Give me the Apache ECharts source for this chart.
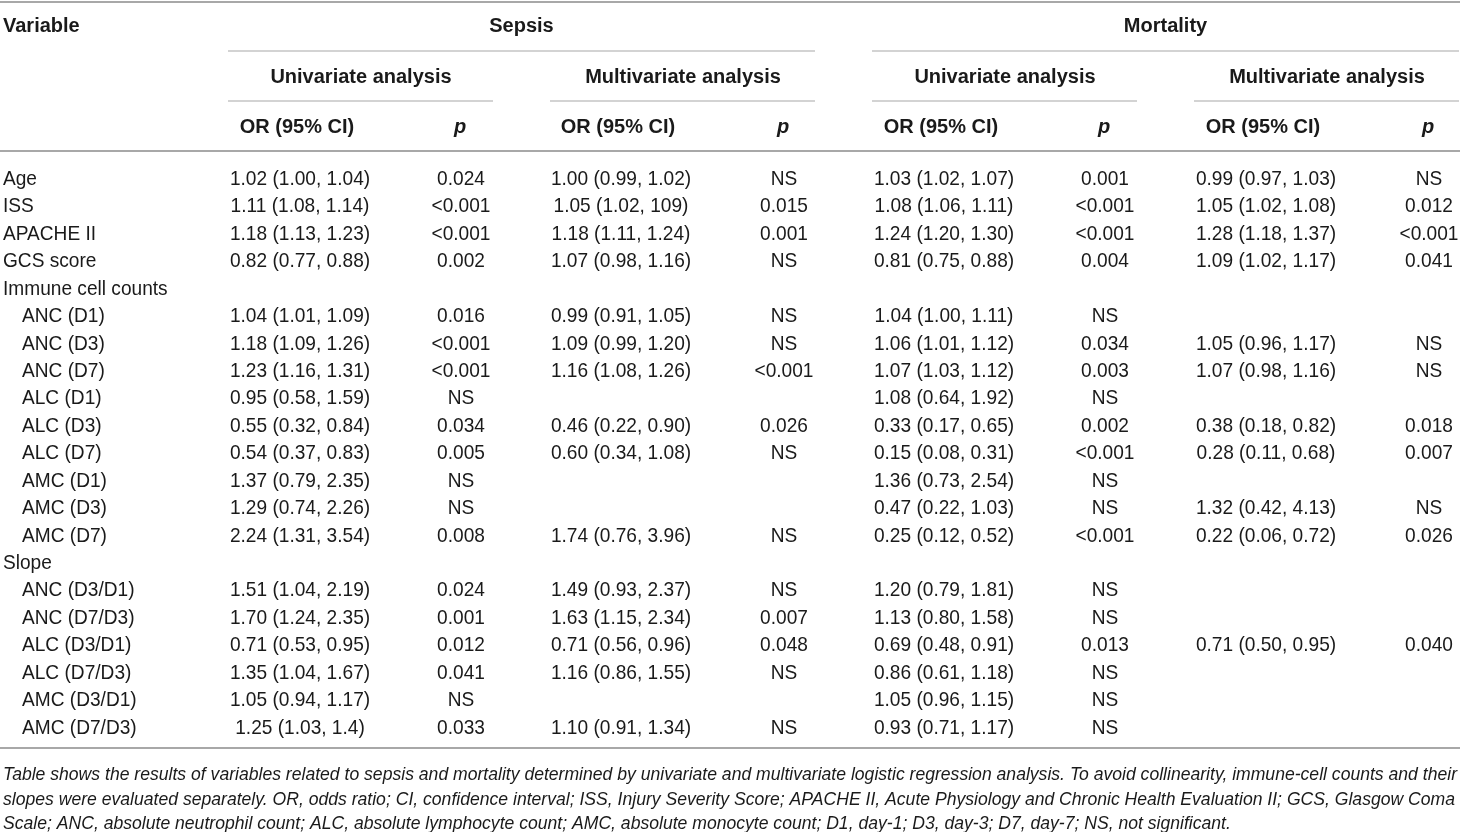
<!DOCTYPE html>
<html>
<head>
<meta charset="utf-8">
<script src="https://cdn.jsdelivr.net/npm/echarts@6/dist/echarts.min.js"></script>
<style>
  html, body { margin: 0; padding: 0; background: #fff; }
  #main { width: 1460px; height: 832px; }
</style>
</head>
<body>
<div id="main"></div>
<script>
// 表格数据
var variables = ['Age', 'ISS', 'APACHE II', 'GCS score', 'Immune cell counts',
    'ANC (D1)', 'ANC (D3)', 'ANC (D7)', 'ALC (D1)', 'ALC (D3)', 'ALC (D7)',
    'AMC (D1)', 'AMC (D3)', 'AMC (D7)', 'Slope',
    'ANC (D3/D1)', 'ANC (D7/D3)', 'ALC (D3/D1)', 'ALC (D7/D3)', 'AMC (D3/D1)', 'AMC (D7/D3)'];
var groupRows = ['Immune cell counts', 'Slope'];

var sepsisUniOR = ['1.02 (1.00, 1.04)', '1.11 (1.08, 1.14)', '1.18 (1.13, 1.23)', '0.82 (0.77, 0.88)', '',
    '1.04 (1.01, 1.09)', '1.18 (1.09, 1.26)', '1.23 (1.16, 1.31)', '0.95 (0.58, 1.59)', '0.55 (0.32, 0.84)', '0.54 (0.37, 0.83)',
    '1.37 (0.79, 2.35)', '1.29 (0.74, 2.26)', '2.24 (1.31, 3.54)', '',
    '1.51 (1.04, 2.19)', '1.70 (1.24, 2.35)', '0.71 (0.53, 0.95)', '1.35 (1.04, 1.67)', '1.05 (0.94, 1.17)', '1.25 (1.03, 1.4)'];
var sepsisUniP = ['0.024', '<0.001', '<0.001', '0.002', '',
    '0.016', '<0.001', '<0.001', 'NS', '0.034', '0.005',
    'NS', 'NS', '0.008', '',
    '0.024', '0.001', '0.012', '0.041', 'NS', '0.033'];
var sepsisMultiOR = ['1.00 (0.99, 1.02)', '1.05 (1.02, 109)', '1.18 (1.11, 1.24)', '1.07 (0.98, 1.16)', '',
    '0.99 (0.91, 1.05)', '1.09 (0.99, 1.20)', '1.16 (1.08, 1.26)', '', '0.46 (0.22, 0.90)', '0.60 (0.34, 1.08)',
    '', '', '1.74 (0.76, 3.96)', '',
    '1.49 (0.93, 2.37)', '1.63 (1.15, 2.34)', '0.71 (0.56, 0.96)', '1.16 (0.86, 1.55)', '', '1.10 (0.91, 1.34)'];
var sepsisMultiP = ['NS', '0.015', '0.001', 'NS', '',
    'NS', 'NS', '<0.001', '', '0.026', 'NS',
    '', '', 'NS', '',
    'NS', '0.007', '0.048', 'NS', '', 'NS'];
var mortUniOR = ['1.03 (1.02, 1.07)', '1.08 (1.06, 1.11)', '1.24 (1.20, 1.30)', '0.81 (0.75, 0.88)', '',
    '1.04 (1.00, 1.11)', '1.06 (1.01, 1.12)', '1.07 (1.03, 1.12)', '1.08 (0.64, 1.92)', '0.33 (0.17, 0.65)', '0.15 (0.08, 0.31)',
    '1.36 (0.73, 2.54)', '0.47 (0.22, 1.03)', '0.25 (0.12, 0.52)', '',
    '1.20 (0.79, 1.81)', '1.13 (0.80, 1.58)', '0.69 (0.48, 0.91)', '0.86 (0.61, 1.18)', '1.05 (0.96, 1.15)', '0.93 (0.71, 1.17)'];
var mortUniP = ['0.001', '<0.001', '<0.001', '0.004', '',
    'NS', '0.034', '0.003', 'NS', '0.002', '<0.001',
    'NS', 'NS', '<0.001', '',
    'NS', 'NS', '0.013', 'NS', 'NS', 'NS'];
var mortMultiOR = ['0.99 (0.97, 1.03)', '1.05 (1.02, 1.08)', '1.28 (1.18, 1.37)', '1.09 (1.02, 1.17)', '',
    '', '1.05 (0.96, 1.17)', '1.07 (0.98, 1.16)', '', '0.38 (0.18, 0.82)', '0.28 (0.11, 0.68)',
    '', '1.32 (0.42, 4.13)', '0.22 (0.06, 0.72)', '',
    '', '', '0.71 (0.50, 0.95)', '', '', ''];
var mortMultiP = ['NS', '0.012', '<0.001', '0.041', '',
    '', 'NS', 'NS', '', '0.018', '0.007',
    '', 'NS', '0.026', '',
    '', '', '0.040', '', '', ''];

var outcomes = ['Sepsis', 'Mortality'];
var analyses = ['Univariate analysis', 'Multivariate analysis'];
var footnote = [
    'Table shows the results of variables related to sepsis and mortality determined by univariate and multivariate logistic regression analysis. To avoid collinearity, immune-cell counts and their',
    'slopes were evaluated separately. OR, odds ratio; CI, confidence interval; ISS, Injury Severity Score; APACHE II, Acute Physiology and Chronic Health Evaluation II; GCS, Glasgow Coma',
    'Scale; ANC, absolute neutrophil count; ALC, absolute lymphocyte count; AMC, absolute monocyte count; D1, day-1; D3, day-3; D7, day-7; NS, not significant.'
];

// 版式
var W = 1460;
var bodyFont = '21px "Liberation Sans", Arial, sans-serif';
var bodyScale = 0.91;   // 模拟略窄的字体
var headFont = 'bold 20px "Liberation Sans", Arial, sans-serif';
var noteFont = 'italic 18px "Liberation Sans", Arial, sans-serif';
var textColor = '#1a1a1a';
var blocks = [228, 550, 872, 1194];   // 每个分析块左边界
var blockW = 265;
var orCenter = [300, 621, 944, 1266];
var pCenter = [461, 784, 1105, 1429];

// 脚注按第一行宽度压缩
var measureCtx = document.createElement('canvas').getContext('2d');
measureCtx.font = noteFont;
var noteScale = 1454 / measureCtx.measureText(footnote[0]).width;

var columns = [
    { x: 3, align: 'left', values: variables, label: true },
    { x: orCenter[0], align: 'center', values: sepsisUniOR },
    { x: pCenter[0], align: 'center', values: sepsisUniP },
    { x: orCenter[1], align: 'center', values: sepsisMultiOR },
    { x: pCenter[1], align: 'center', values: sepsisMultiP },
    { x: orCenter[2], align: 'center', values: mortUniOR },
    { x: pCenter[2], align: 'center', values: mortUniP },
    { x: orCenter[3], align: 'center', values: mortMultiOR },
    { x: pCenter[3], align: 'center', values: mortMultiP }
];

function rowIndent(i) {
    if (i < 4) return 0;
    return groupRows.indexOf(variables[i]) >= 0 ? 0 : 19;
}

var series = columns.map(function (col) {
    var data = [];
    col.values.forEach(function (v, i) {
        if (v !== '') data.push([col.x + (col.label ? rowIndent(i) : 0), i, v]);
    });
    return {
        type: 'custom',
        coordinateSystem: 'cartesian2d',
        silent: true,
        clip: false,
        data: data,
        renderItem: function (params, api) {
            var pt = api.coord([api.value(0), api.value(1)]);
            return {
                type: 'text',
                x: pt[0],
                y: pt[1] + 1.5,
                scaleX: bodyScale,
                style: {
                    text: data[params.dataIndex][2],
                    font: bodyFont,
                    fill: textColor,
                    align: col.align,
                    verticalAlign: 'middle',
                    textAlign: col.align,
                    textVerticalAlign: 'middle'
                }
            };
        }
    };
});

// 表头与分隔线
function hline(x1, x2, y, w, c) {
    return { type: 'line', silent: true, shape: { x1: x1, y1: y, x2: x2, y2: y },
        style: { stroke: c, lineWidth: w } };
}
function htext(t, x, y, align, font, sx) {
    return { type: 'text', silent: true, x: x, y: y, scaleX: sx || 1,
        style: { text: t, font: font || headFont, fill: textColor, align: align,
            verticalAlign: 'middle', textAlign: align, textVerticalAlign: 'middle' } };
}

var graphics = [];
graphics.push(hline(0, W, 2, 2, '#a8a8a8'));
graphics.push(hline(0, W, 151, 2, '#a8a8a8'));
graphics.push(hline(0, W, 748, 2, '#a8a8a8'));
graphics.push(htext('Variable', 3, 26, 'left'));
outcomes.forEach(function (o, k) {
    var x1 = blocks[k * 2], x2 = blocks[k * 2 + 1] + blockW;
    graphics.push(htext(o, (x1 + x2) / 2, 26, 'center'));
    graphics.push(hline(x1, Math.min(x2, W), 51, 1.5, '#c4c4c4'));
});
blocks.forEach(function (bx, k) {
    graphics.push(htext(analyses[k % 2], bx + blockW / 2 + 0.5, 77, 'center'));
    graphics.push(hline(bx, Math.min(bx + blockW, W), 101, 1.5, '#c4c4c4'));
    graphics.push(htext('OR (95% CI)', orCenter[k] - 3, 127, 'center'));
    graphics.push(htext('p', pCenter[k] - 1, 127, 'center', 'italic bold 20px "Liberation Sans", Arial, sans-serif'));
});
footnote.forEach(function (line, i) {
    graphics.push(htext(line, 3, 775 + i * 24.5, 'left', noteFont, noteScale));
});

var chart = echarts.init(document.getElementById('main'), null, { renderer: 'canvas' });
chart.setOption({
    animation: false,
    backgroundColor: '#fff',
    grid: { left: 0, right: 0, top: 164, bottom: 92 },
    xAxis: { type: 'value', min: 0, max: W, show: false },
    yAxis: { type: 'category', data: variables, inverse: true, show: false },
    graphic: graphics,
    series: series
});
</script>
</body>
</html>
